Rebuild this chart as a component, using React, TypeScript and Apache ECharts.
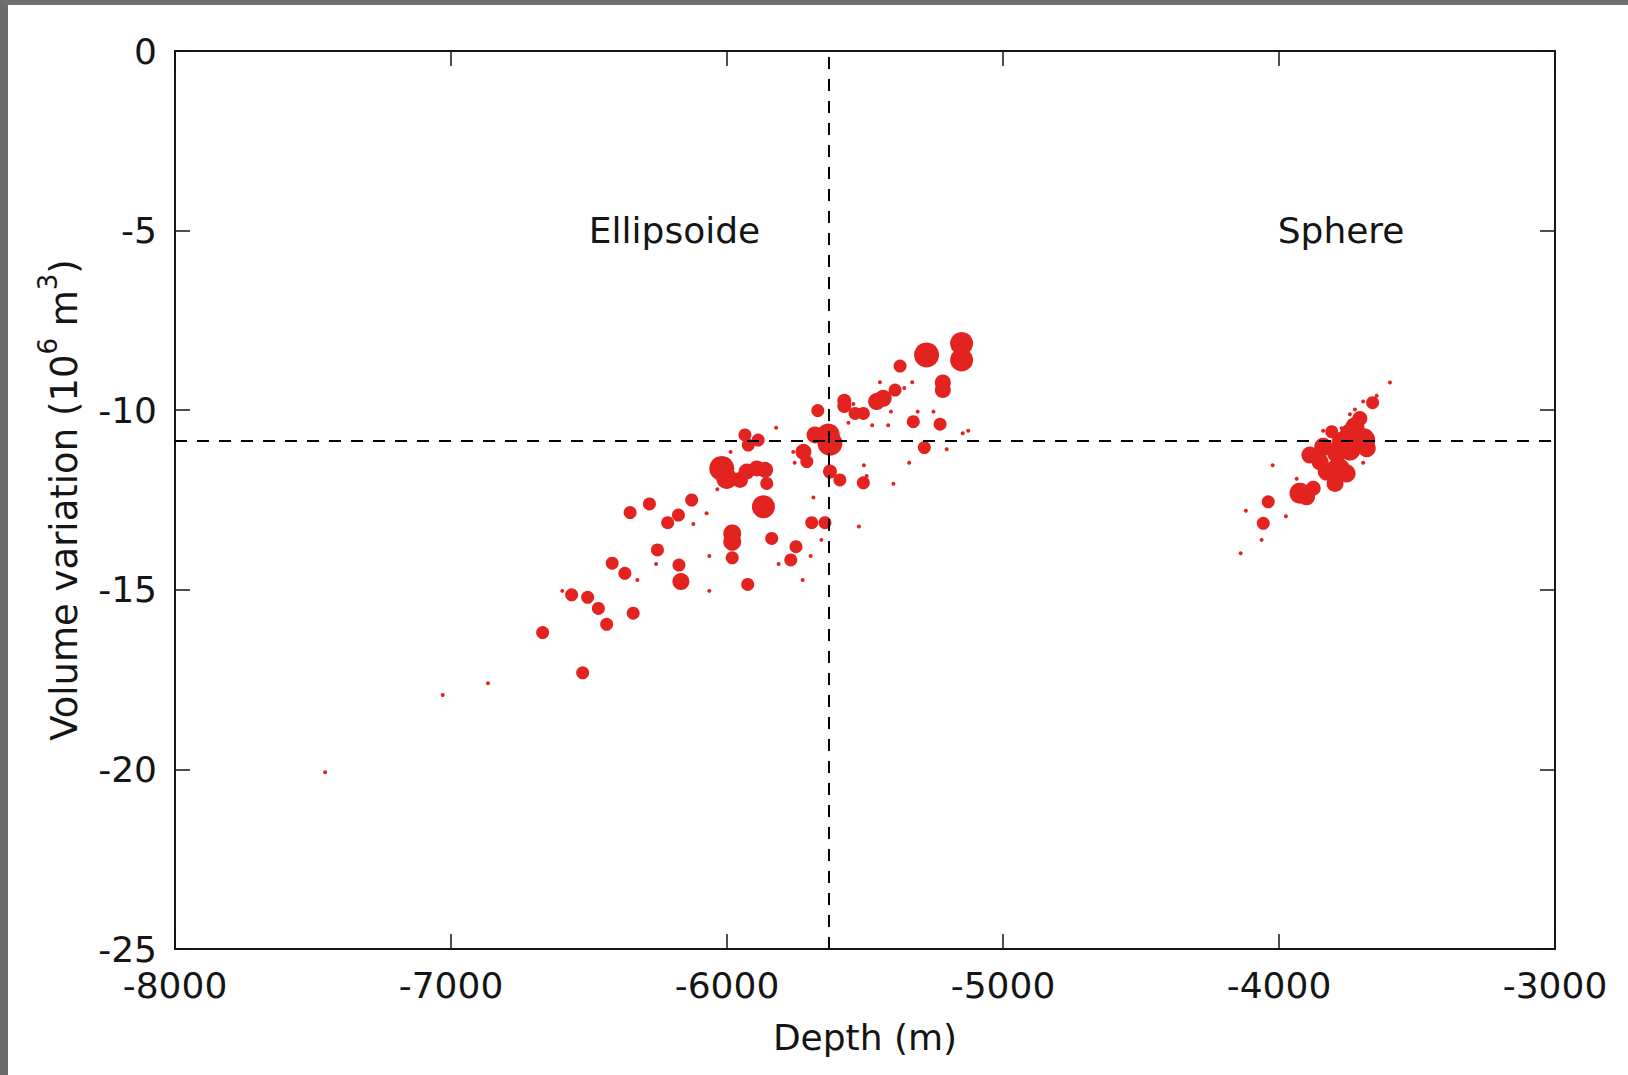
import React, { useEffect, useRef } from "react";
import * as echarts from "echarts";

// ---------- data ----------
const xTicks = [-8000, -7000, -6000, -5000, -4000, -3000];
const yTicks = [-25, -20, -15, -10, -5, 0];

const refDepth = -5630;
const refVolume = -10.85;

// Ellipsoide solutions: depth (m), volume variation (1e6 m3), marker size
const ellDepth = [
  -5150, -5150, -5277, -5373, -5218, -5218, -5391, -5458, -5434, -5575, -5575, -5536, -5506,
  -5671, -5325, -5228, -5285, -5681, -5633, -5627, -5935, -5923, -5887, -5723, -5711, -6019,
  -6001, -5953, -5929, -5892, -5862, -5856, -5627, -5591, -5506, -5868, -6128, -6281, -6351,
  -6176, -6215, -5981, -5981, -5693, -5645, -5838, -5750, -5769, -6252, -5981, -6416, -6174,
  -6370, -6167, -5925, -6563, -6505, -6466, -6340, -6436, -6668, -6523,
  -5822, -5446, -5329, -5358, -5542, -5406, -5309, -5252, -5560, -5474, -5416, -5146, -5126,
  -5204, -5340, -5504, -5494, -5397, -5760, -5755, -5987, -6035, -5687, -6074, -6122, -5522,
  -5658, -6064, -6257, -5813, -5697, -6325, -5726, -6064, -6597, -6866, -7030, -7456,
];
const ellVolume = [
  -8.14, -8.6, -8.46, -8.77, -9.23, -9.44, -9.44, -9.76, -9.67, -9.74, -9.88, -10.09, -10.09,
  -10.01, -10.32, -10.39, -11.04, -10.69, -10.69, -10.92, -10.69, -10.97, -10.83, -11.16, -11.43,
  -11.62, -11.9, -11.94, -11.71, -11.62, -11.66, -12.04, -11.71, -11.94, -12.02, -12.69, -12.5,
  -12.61, -12.85, -12.92, -13.13, -13.43, -13.66, -13.13, -13.13, -13.57, -13.8, -14.17, -13.89,
  -14.11, -14.26, -14.31, -14.54, -14.77, -14.85, -15.14, -15.21, -15.52, -15.65, -15.96, -16.19,
  -17.31,
  -10.49, -9.22, -9.22, -9.38, -9.83, -10.04, -10.04, -10.04, -10.35, -10.42, -10.42, -10.64,
  -10.57, -11.09, -11.46, -11.53, -11.83, -12.05, -11.16, -11.46, -11.16, -12.2, -12.43, -12.87,
  -13.17, -13.24, -13.61, -14.06, -14.28, -14.28, -14.06, -14.73, -14.73, -15.03, -15.03, -17.6,
  -17.93, -20.08,
];
const ellSize = [
  23, 23, 25, 13, 16, 16, 13, 17, 17, 14, 14, 13, 13,
  13, 13, 13, 13, 17, 23, 25, 13, 13, 13, 16, 13, 25,
  21, 16, 16, 16, 16, 13, 14, 13, 13, 23, 13, 13, 13,
  13, 13, 18, 18, 13, 13, 13, 13, 13, 13, 13, 13, 13,
  13, 17, 13, 13, 13, 13, 13, 13, 13, 13,
  4, 4, 4, 4, 4, 4, 4, 4, 4, 4, 4, 4, 4,
  4, 4, 4, 4, 4, 4, 4, 4, 4, 4, 4, 4, 4,
  4, 4, 4, 4, 4, 4, 4, 4, 4, 4, 4, 4,
];

// Sphere solutions
const sphDepth = [
  -3707, -3725, -3737, -3695, -3767, -3682, -3809, -3840, -3888, -3791, -3827, -3785, -3755,
  -3797, -3661, -3924, -3900, -3876, -4039, -4057, -3743, -3851,
  -3598, -3646, -3695, -3725, -3743, -3773, -3840, -4023, -3936, -4120, -3975, -4063, -4139,
  -3695,
];
const sphVolume = [
  -10.23, -10.46, -10.69, -10.83, -10.92, -11.06, -10.6, -11.02, -11.25, -11.2, -11.71, -11.66,
  -11.76, -12.04, -9.79, -12.31, -12.41, -12.17, -12.55, -13.15, -11.11, -11.44,
  -9.23, -9.6, -9.76, -9.98, -10.11, -10.5, -10.57, -11.53, -11.91, -12.8, -12.95, -13.61,
  -13.98, -11.46,
];
const sphSize = [
  15, 19, 24, 24, 24, 18, 13, 18, 17, 19, 18, 24, 18,
  17, 13, 21, 17, 15, 13, 13, 21, 17,
  4, 4, 4, 4, 4, 4, 4, 4, 4, 4, 4, 4, 4,
  4,
];

const annotations = [
  { name: "Ellipsoide", depth: -6190, volume: -5.0 },
  { name: "Sphere", depth: -3775, volume: -5.0 },
];

const FONT = "DejaVu Sans";
const RED = "#e3231f";
const INK = "#151515";

function zip(xs: number[], ys: number[], ss: number[]) {
  return xs.map((x, i) => [x, ys[i], ss[i]]);
}

export default function App() {
  const ref = useRef<HTMLDivElement>(null);

  useEffect(() => {
    document.body.style.margin = "0";
    if (!ref.current) return;
    const chart = echarts.init(ref.current, undefined, { renderer: "svg" });

    const axisLine = { show: true, onZero: false, lineStyle: { color: INK, width: 2 } };
    const axisTick = { show: true, inside: true, length: 15, lineStyle: { color: INK, width: 1.5 } };
    const xBase = {
      type: "value" as const,
      min: xTicks[0],
      max: xTicks[xTicks.length - 1],
      interval: 1000,
      splitLine: { show: false },
      axisLine,
      axisTick,
    };
    const yBase = {
      type: "value" as const,
      min: yTicks[0],
      max: yTicks[yTicks.length - 1],
      interval: 5,
      splitLine: { show: false },
      axisLine,
      axisTick,
    };

    chart.setOption({
      animation: false,
      backgroundColor: "#ffffff",
      grid: { left: 167, top: 46, right: 73, bottom: 126, containLabel: false },
      xAxis: [
        {
          ...xBase,
          position: "bottom",
          name: "Depth (m)",
          nameLocation: "middle",
          nameGap: 70,
          nameTextStyle: { fontFamily: FONT, fontSize: 36, color: INK },
          axisLabel: {
            show: true,
            margin: 18,
            fontFamily: FONT,
            fontSize: 36,
            color: INK,
            formatter: (v: number) => String(v),
          },
        },
        { ...xBase, position: "top", axisLabel: { show: false } },
      ],
      yAxis: [
        {
          ...yBase,
          position: "left",
          name: "{a|Volume variation (10}{s|6}{a| m}{s|3}{a|)}",
          nameLocation: "middle",
          nameGap: 92,
          nameRotate: 90,
          nameTextStyle: {
            color: INK,
            rich: {
              a: { fontFamily: FONT, fontSize: 37, color: INK, lineHeight: 48, verticalAlign: "bottom" },
              s: { fontFamily: FONT, fontSize: 26, color: INK, lineHeight: 48, verticalAlign: "top" },
            },
          },
          axisLabel: {
            show: true,
            margin: 18,
            fontFamily: FONT,
            fontSize: 36,
            color: INK,
            formatter: (v: number) => String(v),
          },
        },
        { ...yBase, position: "right", axisLabel: { show: false } },
      ],
      series: [
        {
          type: "scatter",
          name: "Ellipsoide",
          symbol: "circle",
          data: zip(ellDepth, ellVolume, ellSize),
          symbolSize: (v: number[]) => v[2],
          itemStyle: { color: RED, opacity: 1 },
          z: 2,
        },
        {
          type: "scatter",
          name: "Sphere",
          symbol: "circle",
          data: zip(sphDepth, sphVolume, sphSize),
          symbolSize: (v: number[]) => v[2],
          itemStyle: { color: RED, opacity: 1 },
          z: 2,
        },
        {
          type: "scatter",
          name: "labels",
          symbolSize: 0,
          silent: true,
          itemStyle: { color: "#ffffff", opacity: 1 },
          data: annotations.map((a) => ({ value: [a.depth, a.volume], name: a.name })),
          label: {
            show: true,
            position: [0, 0],
            align: "center",
            verticalAlign: "middle",
            formatter: (p: any) => p.name,
            fontFamily: FONT,
            fontSize: 36,
            color: INK,
            opacity: 1,
            textBorderWidth: 0,
          },
          z: 3,
        },
        {
          type: "scatter",
          name: "ref",
          data: [],
          z: 10,
          markLine: {
            silent: true,
            symbol: ["none", "none"],
            label: { show: false },
            lineStyle: { color: "#000", width: 2, type: [12, 10] },
            data: [{ xAxis: refDepth }, { yAxis: refVolume }],
          },
        },
      ],
    });

    return () => chart.dispose();
  }, []);

  return (
    <div
      style={{
        position: "absolute",
        left: 0,
        top: 0,
        width: 1628,
        height: 1075,
        boxSizing: "border-box",
        background: "#ffffff",
        borderTop: "5px solid #707070",
        borderLeft: "8px solid #6c6c6c",
      }}
    >
      <div ref={ref} style={{ width: 1620, height: 1070 }} />
    </div>
  );
}
